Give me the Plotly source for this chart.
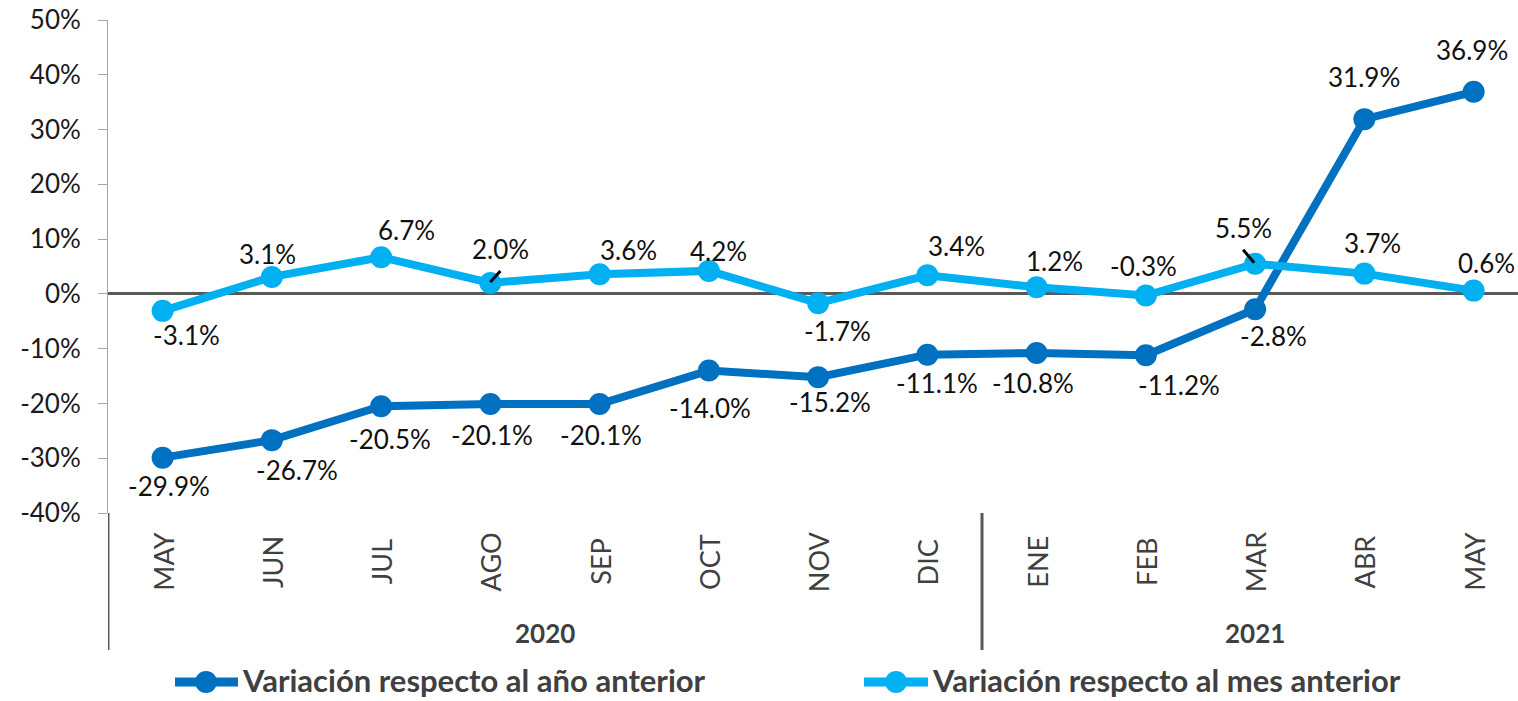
import plotly.graph_objects as go

# ---------------- data ----------------
months = ["MAY", "JUN", "JUL", "AGO", "SEP", "OCT", "NOV", "DIC",
          "ENE", "FEB", "MAR", "ABR", "MAY"]
years = ["2020", "2021"]
year_of_month = ["2020"] * 8 + ["2021"] * 5
var_anual = [-29.9, -26.7, -20.5, -20.1, -20.1, -14.0, -15.2, -11.1,
             -10.8, -11.2, -2.8, 31.9, 36.9]
var_mensual = [-3.1, 3.1, 6.7, 2.0, 3.6, 4.2, -1.7, 3.4,
               1.2, -0.3, 5.5, 3.7, 0.6]
name_anual = "Variación respecto al año anterior"
name_mensual = "Variación respecto al mes anterior"
y_ticks = [-40, -30, -20, -10, 0, 10, 20, 30, 40, 50]

# label offsets in pixels (dx right, dy down)
off_anual = [(6, 28), (25, 30), (9, 33), (2, 31), (1, 31), (1, 37), (12, 25),
             (10, 28), (-4, 30), (33, 30), (18, 27), (0, -42), (-2, -42)]
off_mensual = [(24, 24), (-4, -23), (25, -27), (10, -34), (29, -24), (10, -20),
               (19, 28), (29, -29), (18, -26), (-2, -30), (-12, -36), (8, -31),
               (13, -28)]

# ---------------- style ----------------
C_DARK = "#0070C0"
C_LIGHT = "#00B0F0"
FONT = "Lato"
W, H = 1518, 701
L, R, T, B = 108, 1518, 20, 513
STEP = 109.25
LEG_Y = 680

def px(xp):
    return (xp - L) / (R - L)

def py(yp):
    return (B - yp) / (B - T)

x = list(range(len(months)))

fig = go.Figure()
for vals, name, col in [(var_anual, name_anual, C_DARK),
                        (var_mensual, name_mensual, C_LIGHT)]:
    fig.add_trace(go.Scatter(
        x=x, y=vals, name=name, mode="lines+markers",
        line=dict(color=col, width=8),
        marker=dict(color=col, size=22),
        cliponaxis=False, showlegend=False,
        hovertemplate="%{y:.1f}%<extra>" + name + "</extra>",
    ))

annotations = []
for vals, offs in [(var_anual, off_anual), (var_mensual, off_mensual)]:
    for i, v in enumerate(vals):
        dx, dy = offs[i]
        annotations.append(dict(
            x=i, y=v, xref="x", yref="y", text=f"{v:.1f}%",
            showarrow=False, xshift=dx, yshift=-dy,
            xanchor="center", yanchor="middle",
            font=dict(family=FONT, size=26, color="#111111"),
        ))

# month labels (rotated)
for i, m in enumerate(months):
    annotations.append(dict(
        x=i, y=py(562), xref="x", yref="paper", text=m, showarrow=False,
        textangle=-90, xanchor="center", yanchor="middle",
        font=dict(family=FONT, size=27, color="#404040"),
    ))

# year labels
for yr in years:
    idx = [i for i, yy in enumerate(year_of_month) if yy == yr]
    annotations.append(dict(
        x=(idx[0] + idx[-1]) / 2, y=py(633), xref="x", yref="paper",
        text=f"<b>{yr}</b>", showarrow=False,
        xanchor="center", yanchor="middle",
        font=dict(family=FONT, size=26, color="#404040"),
    ))

# legend text
for xt, name in [(240, name_anual), (930, name_mensual)]:
    annotations.append(dict(
        x=px(xt), y=py(LEG_Y), xref="paper", yref="paper", xanchor="left",
        yanchor="middle", text=f"<b>{name}</b>", showarrow=False,
        font=dict(family=FONT, size=31, color="#404040"),
    ))

shapes = []
# category separators
for xs in [-0.5, 7.5]:
    shapes.append(dict(type="line", xref="x", yref="paper", x0=xs, x1=xs,
                       y0=0, y1=py(650), line=dict(color="#595959", width=3)))

# leader lines
shapes.append(dict(type="line", xref="x", yref="y", xsizemode="pixel",
                   ysizemode="pixel", xanchor=3, yanchor=var_mensual[3],
                   x0=0, x1=10, y0=1, y1=12, line=dict(color="black", width=3)))
shapes.append(dict(type="line", xref="x", yref="y", xsizemode="pixel",
                   ysizemode="pixel", xanchor=10, yanchor=var_mensual[10],
                   x0=-12, x1=-1, y0=14, y1=1, line=dict(color="black", width=3)))

# legend glyphs
for x0l, x1l, xc, col in [(175, 238, 206, C_DARK), (864, 928, 896, C_LIGHT)]:
    shapes.append(dict(type="line", xref="paper", yref="paper",
                       x0=px(x0l), x1=px(x1l), y0=py(LEG_Y + 2), y1=py(LEG_Y + 2),
                       line=dict(color=col, width=9)))
    shapes.append(dict(type="circle", xref="paper", yref="paper",
                       xsizemode="pixel", ysizemode="pixel",
                       xanchor=px(xc), yanchor=py(LEG_Y + 2),
                       x0=-11, x1=11, y0=-11, y1=11,
                       fillcolor=col, line=dict(color=col, width=0)))

fig.update_layout(
    width=W, height=H,
    margin=dict(l=L, r=W - R, t=T, b=H - B, pad=0, autoexpand=False),
    paper_bgcolor="white", plot_bgcolor="white",
    annotations=annotations, shapes=shapes,
    showlegend=False,
    font=dict(family=FONT),
    xaxis=dict(range=[-0.5, -0.5 + (R - L) / STEP], showgrid=False,
               zeroline=False, showline=False, showticklabels=False,
               ticks="", fixedrange=True, automargin=False),
    yaxis=dict(range=[-40, 50], tickvals=y_ticks,
               ticktext=[f"{v}%" for v in y_ticks],
               showgrid=False, zeroline=True, zerolinecolor="#595959",
               zerolinewidth=3, showline=True, linecolor="#a6a6a6",
               linewidth=1, ticks="outside", ticklen=9, tickcolor="#a6a6a6",
               ticklabelstandoff=12, automargin=False,
               tickfont=dict(family=FONT, size=26, color="#1a1a1a"),
               fixedrange=True),
)

fig.write_html(
    "out.html",
    config={"displayModeBar": False},
    post_script="document.body.style.margin='0px';"
                "document.body.style.padding='0px';"
                "document.body.style.overflow='hidden';",
)
